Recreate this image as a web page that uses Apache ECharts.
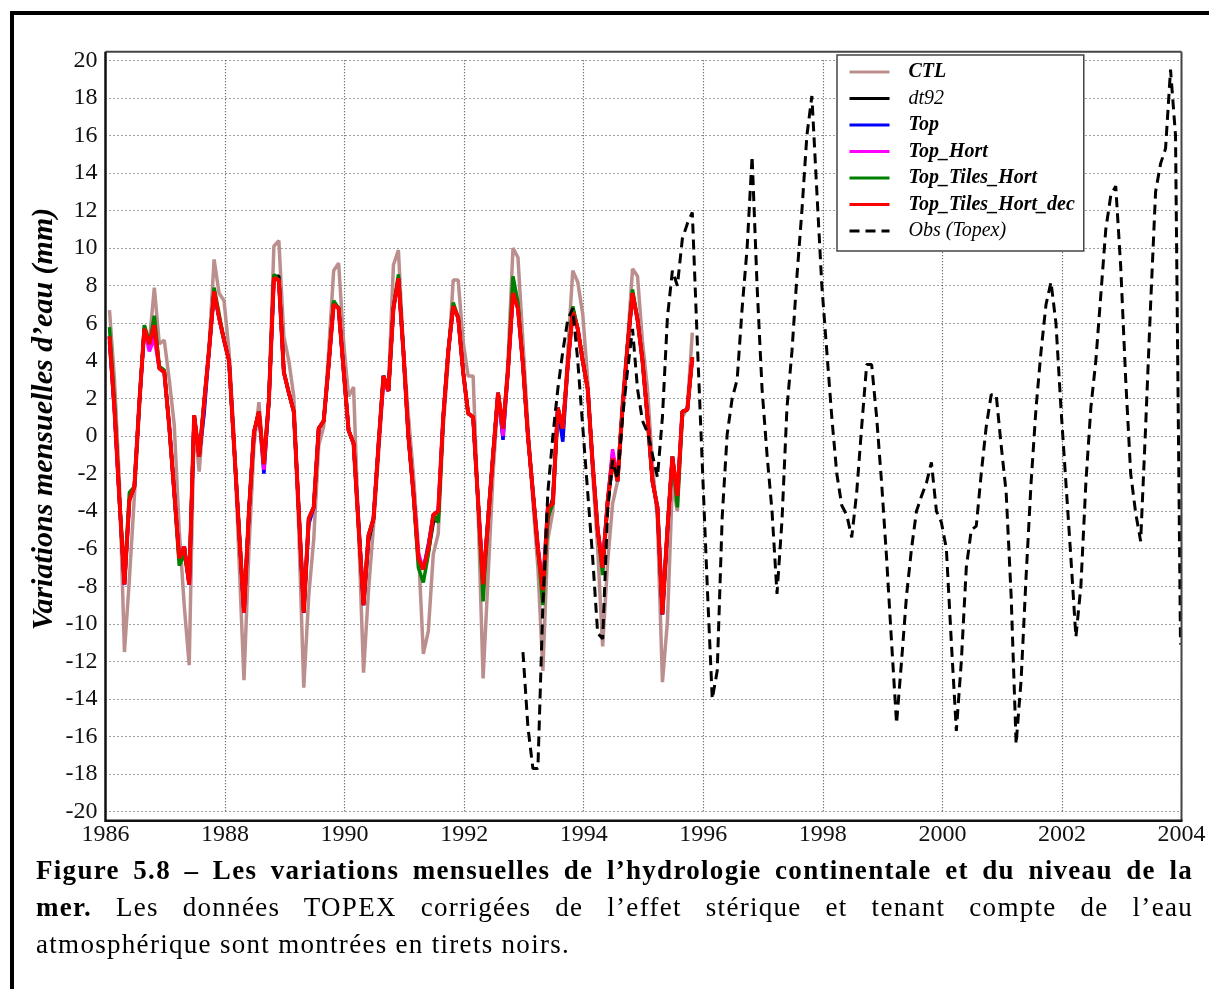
<!DOCTYPE html>
<html>
<head>
<meta charset="utf-8">
<script src="https://cdn.jsdelivr.net/npm/echarts@6/dist/echarts.min.js"></script>
<style>
  html, body { margin:0; padding:0; background:#fff; }
  #wrap { position:relative; width:1209px; height:989px; overflow:hidden; background:#fff; }
  #chart { position:absolute; left:0; top:0; width:1209px; height:989px; }
  #frame { position:absolute; left:10px; top:11px; width:1300px; height:1100px; border-left:4px solid #000; border-top:4px solid #000; box-sizing:border-box; pointer-events:none; }
  #cap { position:absolute; left:36px; top:852px; width:1157px; font-family:"Liberation Serif", serif; font-size:27px; letter-spacing:1.3px; line-height:37px; color:#000; }
  .j { text-align:justify; text-align-last:justify; }
</style>
</head>
<body>
<div id="wrap">
  <div id="chart"></div>
  <div id="frame"></div>
  <div id="cap">
    <div class="j"><b>Figure 5.8 – Les variations mensuelles de l’hydrologie continentale et du niveau de la</b></div>
    <div class="j"><b>mer.</b> Les données TOPEX corrigées de l’effet stérique et tenant compte de l’eau</div>
    <div>atmosphérique sont montrées en tirets noirs.</div>
  </div>
</div>
<script>
// ---- data (monthly values, mm) ----
// model series: first month = Jan 1986, monthly
const modelStartYear = 1986;
// Obs (Topex): first month index counted from Jan 1986
const obsStartMonth = 83;

const yTicks = [-20,-18,-16,-14,-12,-10,-8,-6,-4,-2,0,2,4,6,8,10,12,14,16,18,20];
const xTicks = [1986,1988,1990,1992,1994,1996,1998,2000,2002,2004];

const seriesNames = ['CTL','dt92','Top','Top_Hort','Top_Tiles_Hort','Top_Tiles_Hort_dec','Obs (Topex)'];

const CTL = [6.7,3.0,-2.5,-11.5,-7.6,-3.2,1.5,5.9,5.0,7.9,4.9,5.1,
3.0,0.6,-5.0,-9.0,-12.2,0.8,-1.9,1.5,4.8,9.4,7.6,7.2,
4.5,0.0,-6.5,-13.0,-6.0,-0.5,1.8,-1.6,2.0,10.1,10.4,5.3,
4.0,2.1,-5.0,-13.4,-8.5,-5.5,-0.5,0.5,4.5,8.8,9.2,5.0,
2.1,2.6,-5.0,-12.6,-8.2,-4.8,-1.0,2.9,2.7,9.1,9.9,4.6,
1.1,-2.0,-5.9,-11.6,-10.4,-6.3,-5.2,0.5,4.0,8.3,8.3,5.0,
3.2,3.2,-4.0,-12.9,-7.5,-2.0,2.0,0.0,4.0,10.0,9.5,5.0,
0.5,-3.5,-7.0,-12.5,-5.5,-4.0,1.3,-0.1,4.5,8.8,8.2,6.5,
3.0,-2.0,-6.0,-11.2,-6.7,-3.6,-2.4,2.0,5.0,8.9,8.5,5.0,
2.5,-1.5,-4.5,-13.1,-9.9,-2.5,-4.0,1.0,1.5,5.5];

const dt92 = [5.0,1.4,-3.4,-7.9,-3.4,-2.7,1.8,5.7,4.9,5.9,3.6,3.4,
0.5,-3.0,-6.5,-5.9,-7.9,1.1,-1.1,1.8,4.6,7.7,6.3,5.1,
4.0,-0.5,-5.0,-9.4,-4.0,0.2,1.3,-1.5,1.9,8.5,8.5,3.4,
2.3,1.3,-4.0,-9.4,-4.4,-3.8,0.4,0.8,3.8,7.1,6.8,3.5,
0.3,-0.4,-4.8,-9.0,-5.6,-4.4,-0.5,3.2,2.4,6.8,8.4,4.5,
0.0,-3.0,-6.5,-7.1,-6.2,-4.6,-4.3,1.0,4.5,6.9,6.3,3.4,
1.2,1.0,-3.5,-7.9,-4.3,-1.0,2.3,0.4,3.5,7.6,6.8,3.8,
0.0,-3.0,-6.0,-8.2,-4.4,-3.3,1.5,0.4,3.8,6.8,5.7,4.0,
2.5,-1.5,-5.0,-7.0,-3.5,-1.5,-2.0,1.5,4.8,7.6,6.2,4.0,
1.0,-2.4,-3.8,-9.5,-5.0,-1.1,-3.2,1.3,1.4,4.2];

const Top = [5.3,1.4,-3.4,-7.9,-3.4,-2.7,1.8,5.7,4.9,5.6,3.6,3.4,
0.5,-3.0,-6.5,-5.9,-7.9,1.1,-1.1,1.2,4.6,7.7,6.3,5.1,
4.0,-0.5,-5.0,-9.4,-4.0,0.2,1.3,-2.0,1.9,8.4,8.3,3.4,
2.3,1.3,-4.0,-9.4,-4.7,-3.8,0.4,0.8,3.8,7.0,6.8,3.5,
0.3,-0.4,-4.5,-9.0,-5.3,-4.4,-0.5,3.2,2.4,6.8,8.4,4.5,
0.0,-3.0,-6.5,-7.1,-5.8,-4.2,-4.0,1.0,4.5,6.9,6.3,3.4,
1.2,1.0,-3.5,-7.9,-4.5,-1.0,2.3,-0.2,3.5,7.6,6.8,3.8,
0.0,-3.0,-6.0,-8.2,-3.8,-3.6,1.5,-0.3,3.8,6.6,5.7,4.0,
2.5,-1.5,-5.0,-7.0,-3.5,-0.9,-2.4,1.5,4.8,7.6,6.2,4.0,
1.0,-2.4,-3.8,-9.5,-5.0,-1.1,-3.2,1.3,1.4,4.2];

const Top_Hort = [5.3,1.4,-3.4,-7.9,-3.4,-2.7,1.8,5.7,4.5,5.2,3.6,3.4,
0.5,-3.0,-6.5,-5.9,-7.9,1.1,-1.1,1.8,4.6,7.7,6.3,5.1,
4.0,-0.5,-5.0,-9.4,-4.0,0.2,1.3,-1.8,1.9,8.4,8.3,3.4,
2.3,1.3,-4.0,-9.0,-4.4,-3.8,0.4,0.8,3.8,7.0,6.8,3.5,
0.3,-0.4,-4.8,-8.6,-5.3,-4.4,-0.5,2.8,2.4,6.8,8.4,4.5,
0.0,-3.0,-6.2,-7.1,-6.0,-4.2,-4.0,1.0,4.5,6.9,6.3,3.4,
1.2,1.0,-3.5,-7.9,-4.5,-1.0,2.3,0.0,3.5,7.6,6.8,3.8,
0.0,-3.0,-5.8,-8.2,-3.8,-3.6,1.5,0.4,3.8,6.6,5.7,4.0,
2.5,-1.5,-5.0,-6.7,-3.5,-0.7,-2.4,1.5,4.8,7.6,6.2,4.0,
1.0,-2.4,-3.8,-9.0,-5.0,-1.1,-3.2,1.3,1.4,4.2];

const Top_Tiles_Hort = [5.8,1.8,-3.4,-7.6,-3.0,-2.7,1.8,5.9,4.9,6.4,3.7,3.5,
0.5,-3.0,-6.9,-6.3,-7.7,1.1,-1.1,1.8,4.6,7.9,6.5,5.1,
4.0,-0.5,-5.0,-9.2,-4.0,0.2,1.3,-1.5,1.9,8.6,8.3,3.4,
2.3,1.3,-4.0,-9.2,-4.4,-3.8,0.4,0.8,3.8,7.2,6.8,3.5,
0.3,-0.4,-4.8,-8.7,-5.3,-4.4,-0.5,3.2,2.4,6.8,8.6,4.5,
0.0,-3.0,-7.0,-7.8,-6.3,-4.2,-4.6,1.0,4.5,7.1,6.3,3.4,
1.2,1.0,-3.5,-8.8,-4.5,-1.0,2.3,0.4,3.5,8.5,7.1,3.8,
0.0,-3.0,-6.0,-9.0,-4.3,-3.6,1.5,0.4,3.8,6.9,5.7,4.0,
2.5,-1.5,-5.0,-7.4,-3.5,-1.2,-2.4,1.5,4.8,7.8,6.2,4.0,
1.0,-2.4,-3.8,-9.3,-5.0,-1.1,-3.8,1.3,1.4,4.2];

const Top_Tiles_Hort_dec = [5.3,1.4,-3.4,-7.9,-3.4,-2.7,1.8,5.7,4.9,5.9,3.6,3.4,
0.5,-3.0,-6.5,-5.9,-7.9,1.1,-1.1,1.8,4.6,7.7,6.3,5.1,
4.0,-0.5,-5.0,-9.4,-4.0,0.2,1.3,-1.5,1.9,8.4,8.3,3.4,
2.3,1.3,-4.0,-9.4,-4.4,-3.8,0.4,0.8,3.8,7.0,6.8,3.5,
0.3,-0.4,-4.8,-9.0,-5.3,-4.4,-0.5,3.2,2.4,6.8,8.4,4.5,
0.0,-3.0,-6.5,-7.1,-6.0,-4.2,-4.0,1.0,4.5,6.9,6.3,3.4,
1.2,1.0,-3.5,-7.9,-4.5,-1.0,2.3,0.4,3.5,7.6,6.8,3.8,
0.0,-3.0,-6.0,-8.2,-3.8,-3.6,1.5,0.4,3.8,6.6,5.7,4.0,
2.5,-1.5,-5.0,-7.0,-3.5,-1.2,-2.4,1.5,4.8,7.6,6.2,4.0,
1.0,-2.4,-3.8,-9.5,-5.0,-1.1,-3.2,1.3,1.4,4.2];

const Obs = [-11.5,-15.5,-17.7,-17.7,-9.0,-3.0,0.0,2.5,4.5,6.2,6.8,4.0,
0.5,-3.0,-6.5,-10.5,-10.8,-4.0,-1.3,-2.3,1.0,3.5,5.7,2.5,
0.8,0.2,-1.0,-2.2,1.0,6.3,8.8,8.0,10.5,11.3,11.9,5.0,
-1.5,-8.0,-14.0,-12.5,-4.3,0.1,2.0,3.0,6.8,10.0,14.9,8.0,
2.5,-1.0,-4.0,-8.4,-4.5,1.5,4.5,8.5,12.0,16.0,18.1,13.0,
8.0,4.5,1.0,-2.0,-3.7,-4.2,-5.4,-3.0,0.5,3.8,3.8,1.0,
-2.5,-6.5,-11.0,-15.3,-12.0,-8.5,-6.0,-4.0,-3.2,-2.5,-1.4,-4.0,
-4.6,-6.0,-11.0,-15.7,-12.0,-7.0,-5.0,-4.8,-2.0,0.5,2.2,2.2,
-0.5,-3.0,-8.5,-16.4,-13.0,-7.5,-2.5,1.5,4.5,7.0,8.2,6.0,
1.5,-2.5,-6.5,-10.7,-8.0,-2.5,1.5,4.0,7.5,11.0,12.8,13.3,
9.0,3.0,-2.0,-4.1,-5.6,0.5,7.0,13.0,14.5,15.3,19.5,16.0,
-11.1];

const colors = ['#bc8f8f','#000000','#0000ff','#ff00ff','#008000','#ff0000','#000000'];

// ---- build ----
function monthTime(m) { return modelStartYear + (m + 0.8) / 12; }
function toPairs(arr, startMonth) { return arr.map((v, k) => [monthTime(startMonth + k), v]); }

const modelArrays = [CTL, dt92, Top, Top_Hort, Top_Tiles_Hort, Top_Tiles_Hort_dec];
const widths = [3.5, 3.5, 3.5, 3.5, 3.5, 4];

const series = modelArrays.map((arr, i) => ({
  name: seriesNames[i], type: 'line', data: toPairs(arr, 0),
  symbol: 'none', lineStyle: { color: colors[i], width: widths[i] }, itemStyle: { color: colors[i] },
  z: 2 + i
}));
series.push({
  name: seriesNames[6], type: 'line', data: toPairs(Obs, obsStartMonth),
  symbol: 'none', lineStyle: { color: '#000', width: 3, type: [10, 6] }, itemStyle: { color: '#000' },
  z: 9
});

const G = { left: 105.5, right: 1181.5, top: 60.3, bottom: 811.7 };
const serif = '"Liberation Serif", "Times New Roman", serif';

const chart = echarts.init(document.getElementById('chart'), null, { renderer: 'canvas' });
chart.setOption({
  animation: false,
  backgroundColor: 'transparent',
  color: colors,
  grid: { left: G.left, right: 1209 - G.right, top: G.top, bottom: 989 - G.bottom, containLabel: false },
  xAxis: {
    type: 'value', min: xTicks[0], max: xTicks[xTicks.length - 1], interval: 2,
    axisLine: { show: false }, axisTick: { show: false },
    axisLabel: { show: true, margin: 11, fontFamily: serif, fontSize: 24, color: '#111',
      showMinLabel: true, showMaxLabel: true, formatter: v => String(v) },
    splitLine: { show: true, lineStyle: { color: '#444', width: 1.2, type: [1, 2] } }
  },
  yAxis: {
    type: 'value', min: yTicks[0], max: yTicks[yTicks.length - 1], interval: 2,
    axisLine: { show: false }, axisTick: { show: false },
    axisLabel: { show: true, margin: 8, fontFamily: serif, fontSize: 24, color: '#111',
      showMinLabel: true, showMaxLabel: true, formatter: v => String(v) },
    splitLine: { show: true, lineStyle: { color: '#444', width: 1.2, type: [1, 3] } }
  },
  legend: {
    data: seriesNames,
    orient: 'vertical', left: 837, top: 55,
    padding: [7, 9, 10, 11], itemWidth: 40, itemHeight: 14, itemGap: 6.5,
    backgroundColor: '#fff', borderColor: '#444', borderWidth: 1.5,
    selectedMode: false,
    itemStyle: { opacity: 0 },
    lineStyle: { width: 3 },
    formatter: name => (name === 'dt92' || name === 'Obs (Topex)') ? '{n|' + name + '}' : '{b|' + name + '}',
    textStyle: {
      fontFamily: serif, fontSize: 20, color: '#000',
      rich: {
        b: { fontFamily: serif, fontSize: 20, fontStyle: 'italic', fontWeight: 'bold', color: '#000', padding: [0, 0, 0, 14], lineHeight: 20 },
        n: { fontFamily: serif, fontSize: 20, fontStyle: 'italic', fontWeight: 'normal', color: '#000', padding: [0, 0, 0, 14], lineHeight: 20 }
      }
    }
  },
  graphic: [
    { type: 'polyline', z: 20, silent: true,
      shape: { points: [[G.right, 51.7], [G.left, 51.7]] },
      style: { stroke: '#444', lineWidth: 2, fill: null } },
    { type: 'polyline', z: 20, silent: true,
      shape: { points: [[G.right, 51.7], [G.right, 820.7]] },
      style: { stroke: '#444', lineWidth: 2, fill: null } },
    { type: 'polyline', z: 21, silent: true,
      shape: { points: [[G.left, 51.7], [G.left, 820.7], [G.right + 1, 820.7]] },
      style: { stroke: '#111', lineWidth: 2.5, fill: null } },
    { type: 'text', z: 22, silent: true, x: 44, y: 419, rotation: Math.PI / 2,
      style: { text: 'Variations mensuelles d’eau (mm)', fontFamily: serif, fontSize: 30,
        fontStyle: 'italic', fontWeight: 'bold', fill: '#000', align: 'center', verticalAlign: 'middle' } }
  ],
  series: series
});
</script>
</body>
</html>
